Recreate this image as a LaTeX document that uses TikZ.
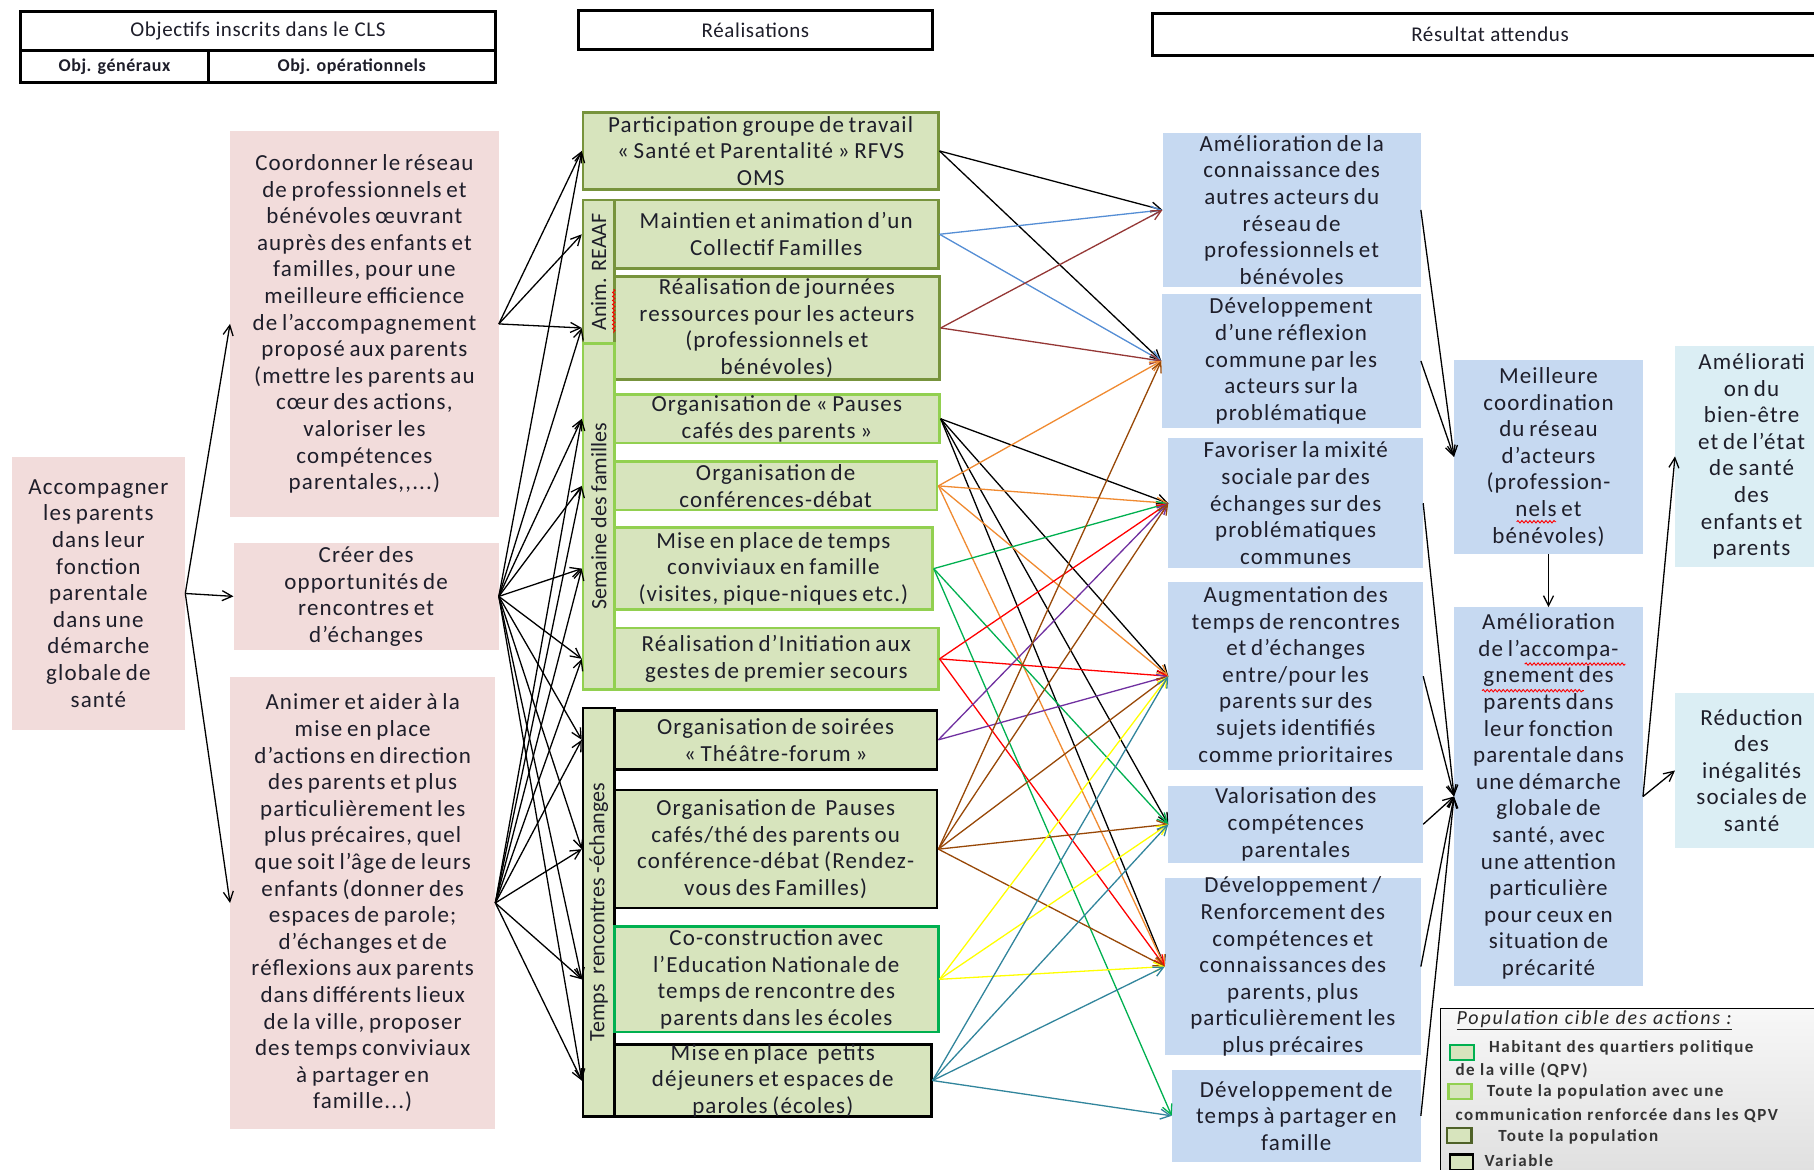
\documentclass[tikz,border=0pt]{standalone}
\usepackage{fontspec}
\setmainfont{Carlito}
\newfontfamily\bodyf{Carlito}[LetterSpace=5,WordSpace=0.75]
\newfontfamily\hdrf{Carlito}[LetterSpace=3]
\newfontfamily\legf{Carlito}[LetterSpace=9]
\usetikzlibrary{fit,arrows.meta,decorations.pathmorphing}
\definecolor{pinkc}{HTML}{F2DCDB}
\definecolor{greenc}{HTML}{D7E4BD}
\definecolor{bluec}{HTML}{C6D9F1}
\definecolor{lbluec}{HTML}{DBEEF4}
\definecolor{olivec}{HTML}{77933C}
\definecolor{dolivec}{HTML}{4F6228}
\definecolor{lgreenc}{HTML}{92D050}
\definecolor{greenbc}{HTML}{00B050}
\definecolor{txtc}{HTML}{1E1E2A}
\definecolor{ablue}{HTML}{558ED5}
\definecolor{adred}{HTML}{953735}
\definecolor{aorange}{HTML}{F08A30}
\definecolor{agreen}{HTML}{00B050}
\definecolor{ared}{HTML}{FF0000}
\definecolor{apurple}{HTML}{7030A0}
\definecolor{abrown}{HTML}{984807}
\definecolor{ayellow}{HTML}{FFFF00}
\definecolor{ateal}{HTML}{31859C}
\tikzset{
  pinkbox/.style={fill=pinkc},
  gbox/.style={fill=greenc, draw=#1, line width=2.6pt},
  bbox/.style={fill=bluec},
  lbbox/.style={fill=lbluec},
  hbox/.style={draw=black, line width=3pt, fill=white},
  txt/.style={align=center, inner sep=0pt, text=txtc, font=\bodyf\fontsize{23}{26.6}\selectfont},
  vtxt/.style={rotate=90, inner sep=0pt, text=txtc, font=\fontsize{22}{26}\selectfont},
  htxt/.style={inner sep=0pt, text=txtc, font=\hdrf\fontsize{21}{24}\selectfont},
  shtxt/.style={inner sep=0pt, text=txtc, font=\hdrf\bfseries\fontsize{18}{20}\selectfont},
  legt/.style={inner sep=0pt, anchor=west, text=black!80, font=\legf\bfseries\fontsize{17}{20}\selectfont},
  legicon/.style={fill=greenc, draw=#1, line width=2.2pt},
  arr/.style={-{Straight Barb[length=10pt,width=10pt]}, line width=1.3pt, draw=#1},
  arr/.default=black,
  squig/.style={draw=red, line width=0.9pt, decorate, decoration={snake, amplitude=1.2pt, segment length=4pt}}
}
\newcommand\bx[7]{\node[#6, fit={(#2,#3) (#4,#5)}, inner sep=0pt] (#1) {};\node[txt] at (#1.center) {#7};}
\begin{document}
\begin{tikzpicture}[x=1.157pt,y=-1.157pt]
\path[use as bounding box, clip] (0,0) rectangle (1568,1011);
\fill[white] (0,0) rectangle (1568,1011);

% headers
\node[hbox, fit={(18,10) (428,44)}, inner sep=0pt] (h1) {};
\node[htxt] at (h1.center) {Objectifs inscrits dans le CLS};
\node[hbox, fit={(18,44) (180,71)}, inner sep=0pt] (h1a) {};
\node[shtxt] at (h1a.center) {Obj. généraux};
\node[hbox, fit={(180,44) (428,71)}, inner sep=0pt] (h1b) {};
\node[shtxt] at (h1b.center) {Obj. opérationnels};
\node[hbox, fit={(500,9) (806,43)}, inner sep=0pt] (h2) {};
\node[htxt] at (h2.center) {Réalisations};
\node[hbox, fit={(996,12) (1580,48)}, inner sep=0pt] (h3) {};
\node[htxt] at (h3.center) {Résultat attendus};

% column 1 and 2
\bx{G}{10}{395}{160}{631}{pinkbox}{Accompagner\\les parents\\dans leur\\fonction\\parentale\\dans une\\démarche\\globale de\\santé}
\bx{A}{199}{113}{431}{447}{pinkbox}{Coordonner le réseau\\de professionnels et\\bénévoles œuvrant\\auprès des enfants et\\familles, pour une\\meilleure efficience\\de l’accompagnement\\proposé aux parents\\(mettre les parents au\\cœur des actions,\\valoriser les\\compétences\\parentales,,...)}
\bx{B}{202}{469}{431}{562}{pinkbox}{Créer des\\opportunités de\\rencontres et\\d’échanges}
\bx{C}{199}{585}{428}{976}{pinkbox}{Animer et aider à la\\mise en place\\d’actions en direction\\des parents et plus\\particulièrement les\\plus précaires, quel\\que soit l’âge de leurs\\enfants (donner des\\espaces de parole;\\d’échanges et de\\réflexions aux parents\\dans différents lieux\\de la ville, proposer\\des temps conviviaux\\à partager en\\famille...)}

% column 3
\bx{R1}{504}{97}{811}{164}{gbox=olivec}{Participation groupe de travail\\« Santé et Parentalité » RFVS\\OMS}
\node[gbox=olivec, fit={(504,173) (531,297)}, inner sep=0pt] (anim) {};
\node[vtxt] at (anim.center) {Anim. REAAF};
\bx{R2}{531}{173}{811}{232}{gbox=olivec}{Maintien et animation d’un\\Collectif Familles}
\bx{R3}{531}{239}{812}{328}{gbox=olivec}{Réalisation de journées\\ressources pour les acteurs\\(professionnels et\\bénévoles)}
\draw[squig] (530.5,250) -- (530.5,288);
\node[gbox=lgreenc, fit={(504,297) (531,596)}, inner sep=0pt] (sem) {};
\node[vtxt] at (sem.center) {Semaine des familles};
\bx{R4}{531}{341}{812}{383}{gbox=lgreenc}{Organisation de « Pauses\\cafés des parents »}
\bx{R5}{531}{399}{810}{441}{gbox=lgreenc}{Organisation de\\conférences-débat}
\bx{R6}{531}{456}{806}{527}{gbox=lgreenc}{Mise en place de temps\\conviviaux en famille\\(visites, pique-niques etc.)}
\bx{R7}{531}{543}{811}{596}{gbox=lgreenc}{Réalisation d’Initiation aux\\gestes de premier secours}
\node[gbox=black, fit={(504,612) (531,965)}, inner sep=0pt] (temps) {};
\node[vtxt] at (temps.center) {Temps~~rencontres -échanges};
\bx{R8}{531}{614}{810}{665}{gbox=black}{Organisation de soirées\\« Théâtre-forum »}
\bx{R9}{531}{683}{810}{785}{gbox=black}{Organisation de~~Pauses\\cafés/thé des parents ou\\conférence-débat (Rendez-\\vous des Familles)}
\bx{R10}{531}{801}{811}{892}{gbox=greenbc}{Co-construction avec\\l’Education Nationale de\\temps de rencontre des\\parents dans les écoles}
\bx{R11}{531}{903}{805}{965}{gbox=black}{Mise en place~~petits\\déjeuners et espaces de\\paroles (écoles)}

% column 4
\bx{B1}{1005}{115}{1228}{248}{bbox}{Amélioration de la\\connaissance des\\autres acteurs du\\réseau de\\professionnels et\\bénévoles}
\bx{B2}{1004}{254}{1228}{370}{bbox}{Développement\\d’une réflexion\\commune par les\\acteurs sur la\\problématique}
\bx{B3}{1010}{379}{1230}{491}{bbox}{Favoriser la mixité\\sociale par des\\échanges sur des\\problématiques\\communes}
\bx{B4}{1010}{503}{1230}{666}{bbox}{Augmentation des\\temps de rencontres\\et d’échanges\\entre/pour les\\parents sur des\\sujets identifiés\\comme prioritaires}
\bx{B5}{1010}{679}{1230}{746}{bbox}{Valorisation des\\compétences\\parentales}
\bx{B6}{1007}{759}{1228}{912}{bbox}{Développement /\\Renforcement des\\compétences et\\connaissances des\\parents, plus\\particulièrement les\\plus précaires}
\bx{B7}{1013}{925}{1228}{1004}{bbox}{Développement de\\temps à partager en\\famille}

% column 5 and 6
\bx{M1}{1257}{311}{1420}{479}{bbox}{Meilleure\\coordination\\du réseau\\d’acteurs\\(profession-\\nels et\\bénévoles)}
\draw[squig] (1311,451) -- (1345,451);
\bx{M2}{1257}{525}{1420}{852}{bbox}{Amélioration\\de l’accompa-\\gnement des\\parents dans\\leur fonction\\parentale dans\\une démarche\\globale de\\santé, avec\\une attention\\particulière\\pour ceux en\\situation de\\précarité}
\draw[squig] (1318,574) -- (1405,574);
\draw[squig] (1281,597) -- (1369,597);
\bx{F1}{1448}{299}{1580}{490}{lbbox}{Améliorati\\on du\\bien-être\\et de l’état\\de santé\\des\\enfants et\\parents}
\bx{F2}{1448}{599}{1580}{733}{lbbox}{Réduction\\des\\inégalités\\sociales de\\santé}

% legend
\node[fit={(1245,872) (1600,1040)}, inner sep=0pt, draw=black, line width=1.2pt, top color=gray!6, bottom color=gray!28] (leg) {};
\node[inner sep=0pt, anchor=west, text=black!85, font=\legf\itshape\fontsize{20}{22}\selectfont] (legtitle) at (1259,882) {\underline{Population cible des actions :}};
\node[legicon=greenbc, fit={(1253,903) (1274,916)}, inner sep=0pt] (li1) {};
\node[legt] (lt1) at (1287,906) {Habitant des quartiers politique};
\node[legt] (lt1b) at (1258,925) {de la ville (QPV)};
\node[legicon=lgreenc, fit={(1252,937) (1272,950)}, inner sep=0pt] (li2) {};
\node[legt] (lt2) at (1285,944) {Toute la population avec une};
\node[legt] (lt2b) at (1258,964) {communication renforcée dans les QPV};
\node[legicon=dolivec, fit={(1251,975) (1272,988)}, inner sep=0pt] (li3) {};
\node[legt] (lt3) at (1295,983) {Toute la population};
\node[legicon=black, fit={(1253,998) (1273,1011)}, inner sep=0pt] (li4) {};
\node[legt] (lt4) at (1283,1003) {Variable};

% arrows col1 -> col2
\draw[arr] (G.east) -- (A.west);
\draw[arr] (G.east) -- (B.west);
\draw[arr] (G.east) -- (C.west);

% arrows col2 -> col3
\draw[arr] (A.east) -- (R1.west);
\draw[arr] (A.east) -- (R2 -| anim.west);
\draw[arr] (A.east) -- (R3 -| anim.west);
\draw[arr] (B.east) -- (R1.west);
\draw[arr] (B.east) -- (R3 -| anim.west);
\foreach \r in {R4,R5,R6,R7} {
  \draw[arr] (B.east) -- (\r -| sem.west);
  \draw[arr] (C.east) -- (\r -| sem.west);
}
\foreach \r in {R8,R9,R10,R11} {
  \draw[arr] (B.east) -- (\r -| temps.west);
  \draw[arr] (C.east) -- (\r -| temps.west);
}

% arrows col3 -> col4
\foreach \s/\t/\c in {
  R1/B1/black, R1/B2/black,
  R2/B1/ablue, R2/B2/ablue,
  R3/B1/adred, R3/B2/adred,
  R4/B3/black, R4/B4/black, R4/B5/black, R4/B6/black,
  R5/B2/aorange, R5/B3/aorange, R5/B4/aorange, R5/B6/aorange,
  R6/B3/agreen, R6/B5/agreen, R6/B7/agreen,
  R7/B3/ared, R7/B4/ared, R7/B6/ared,
  R8/B3/apurple, R8/B4/apurple,
  R9/B2/abrown, R9/B3/abrown, R9/B4/abrown, R9/B5/abrown, R9/B6/abrown,
  R10/B4/ayellow, R10/B5/ayellow, R10/B6/ayellow,
  R11/B4/ateal, R11/B5/ateal, R11/B6/ateal, R11/B7/ateal}
  {\draw[arr=\c] (\s.east) -- (\t.west);}

% arrows right part
\draw[arr] (B1.east) -- (M1.west);
\draw[arr] (B2.east) -- (M1.west);
\foreach \b in {B3,B4,B5,B6,B7} {\draw[arr] (\b.east) -- (M2.west);}
\draw[arr] (M1.south) -- (M2.north);
\draw[arr] (M2.east) -- (F1.west);
\draw[arr] (M2.east) -- (F2.west);
\end{tikzpicture}
\end{document}
